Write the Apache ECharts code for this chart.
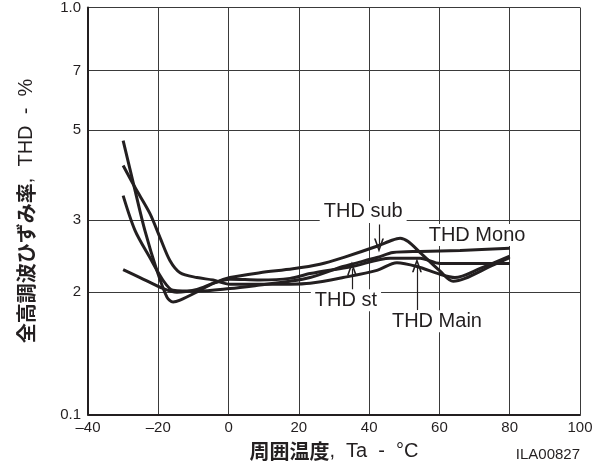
<!DOCTYPE html>
<html>
<head>
<meta charset="utf-8">
<script src="https://cdn.jsdelivr.net/npm/echarts@6/dist/echarts.min.js"></script>
<style>
html,body{margin:0;padding:0;background:#fff;}
#chart{width:605px;height:468px;}
</style>
</head>
<body>
<div id="chart"></div>
<script>
// ---- data (temperature in °C, THD in %) ----
const seriesNames = ['THD sub', 'THD Main', 'THD Mono', 'THD st'];
const subT  = [-30, -26.6, -23.8, -20.4, -17.5, -15.8, -13.8, -9, -4.4, 0.4, 8.9, 18.3, 26, 32.6, 42.2, 46.5, 48.8, 51.1, 54.5, 60.2, 63.9, 67.3, 74.4, 80];
const subV  = [0.471, 0.355, 0.283, 0.226, 0.194, 0.189, 0.191, 0.200, 0.210, 0.217, 0.223, 0.228, 0.234, 0.243, 0.259, 0.268, 0.271, 0.266, 0.250, 0.225, 0.2125, 0.216, 0.231, 0.243];
const mainT = [-30, -26.6, -22.4, -19.5, -16.7, -13.8, -9, -4.4, 0.4, 8.9, 17.5, 23.2, 32.6, 42.2, 47.9, 53.6, 60.2, 64.4, 71.6, 80];
const mainV = [0.409, 0.361, 0.312, 0.272, 0.239, 0.223, 0.217, 0.214, 0.209, 0.209, 0.209, 0.210, 0.217, 0.226, 0.236, 0.231, 0.221, 0.217, 0.2285, 0.245];
const monoT = [-30, -26.6, -22.4, -18.7, -15.8, -9, 0.4, 8.9, 17.5, 23.2, 32.6, 42.2, 46.8, 54.5, 65.9, 80];
const monoV = [0.345, 0.283, 0.243, 0.214, 0.202, 0.201, 0.204, 0.208, 0.2125, 0.217, 0.231, 0.243, 0.250, 0.2516, 0.253, 0.256];
const stT   = [-30, -25.2, -18.7, -14.7, -9, -4.4, 0.4, 8.9, 17.5, 23.2, 35.1, 46, 54.5, 60.2, 70.1, 80];
const stV   = [0.227, 0.217, 0.204, 0.1996, 0.203, 0.210, 0.215, 0.214, 0.216, 0.222, 0.231, 0.242, 0.242, 0.235, 0.235, 0.235];

// tick values and labels
const xMin = -40, xMax = 100, xStep = 20;
const yTicks = [0.1, 0.2, 0.3, 0.5, 0.7, 1.0];
const yTickLabels = ['0.1', '2', '3', '5', '7', '1.0'];

// annotations (data coordinates)
const annoText = ['THD sub', 'THD Mono', 'THD st', 'THD Main'];
const annoAt = [[38.3, 0.3145], [70.7, 0.2761], [33.4, 0.1908], [59.3, 0.1695]];
const arrowFrom = [[42.8, 0.293], [35.1, 0.2019], [53.6, 0.1804]];
const arrowTo   = [[42.8, 0.2603], [35.1, 0.2285], [53.6, 0.2325]];

const INK = '#231f20';
const LATIN = '"Liberation Sans", Arial, sans-serif';
const CJK = '"Noto Sans CJK JP", sans-serif';

function zip(t, v) { return t.map((x, i) => [x, v[i]]); }
const allT = [subT, mainT, monoT, stT];
const allV = [subV, mainV, monoV, stV];

const arrowHead = 'path://M0,14 L5,0 L10,14 L8.3,14 L5,4.6 L1.7,14 Z';

const series = seriesNames.map((name, i) => ({
  name: name,
  type: 'line',
  data: zip(allT[i], allV[i]),
  showSymbol: false,
  smooth: 0.3,
  lineStyle: { color: INK, width: 3 },
  z: 3
}));

series.push({
  name: 'annotations',
  type: 'line',
  data: [],
  z: 2,
  markPoint: {
    symbol: 'rect',
    symbolSize: 1,
    itemStyle: { color: 'rgba(0,0,0,0)' },
    data: annoText.map((t, i) => ({
      coord: annoAt[i],
      label: {
        show: true, position: 'inside', formatter: t,
        backgroundColor: '#fff', padding: [1, 4],
        fontSize: 20, color: INK, fontFamily: LATIN
      }
    }))
  },
  markLine: {
    silent: true,
    symbol: ['none', arrowHead],
    symbolSize: [10, 14],
    label: { show: false },
    lineStyle: { color: INK, width: 1.2, type: 'solid' },
    data: arrowFrom.map((p, i) => [{ coord: p }, { coord: arrowTo[i] }])
  }
});

const chart = echarts.init(document.getElementById('chart'), null, { renderer: 'canvas' });
chart.setOption({
  animation: false,
  backgroundColor: '#fff',
  grid: { left: 88, top: 6.5, width: 492, height: 408, containLabel: false },
  xAxis: {
    type: 'value', min: xMin, max: xMax, interval: xStep,
    name: '{b|周囲温度}{n|,  Ta  -  °C}',
    nameLocation: 'middle', nameGap: 27,
    nameTextStyle: {
      rich: {
        b: { fontFamily: CJK, fontWeight: 'bold', fontSize: 20, color: INK },
        n: { fontFamily: LATIN, fontSize: 20, color: INK }
      }
    },
    axisLine: { show: true, onZero: false, lineStyle: { color: INK, width: 2 } },
    axisTick: { show: false },
    axisLabel: {
      margin: 6, fontSize: 15, color: INK, fontFamily: LATIN,
      formatter: v => (v < 0 ? '–' + (-v) : String(v))
    },
    splitLine: { show: true, lineStyle: { color: '#3a3a3a', width: 1 } }
  },
  yAxis: {
    type: 'log', logBase: 10, min: 0.1, max: 1,
    name: '{b|全高調波ひずみ率}{n|,  THD  -  %}',
    nameLocation: 'middle', nameRotate: 90, nameGap: 52,
    nameTextStyle: {
      rich: {
        b: { fontFamily: CJK, fontWeight: 'bold', fontSize: 20, color: INK },
        n: { fontFamily: LATIN, fontSize: 20, color: INK }
      }
    },
    axisLine: { show: true, onZero: false, lineStyle: { color: INK, width: 2 } },
    axisTick: { show: false, customValues: yTicks },
    axisLabel: {
      customValues: yTicks, margin: 7, fontSize: 15, color: INK, fontFamily: LATIN,
      formatter: v => {
        const i = yTicks.findIndex(t => Math.abs(t - v) < 1e-6);
        return i >= 0 ? yTickLabels[i] : '';
      }
    },
    splitLine: { show: true, lineStyle: { color: '#3a3a3a', width: 1 } }
  },
  graphic: [{
    type: 'text', right: 25, top: 447,
    style: { text: 'ILA00827', fontSize: 15, fontFamily: LATIN, fill: INK }
  }],
  series: series
});
</script>
</body>
</html>
